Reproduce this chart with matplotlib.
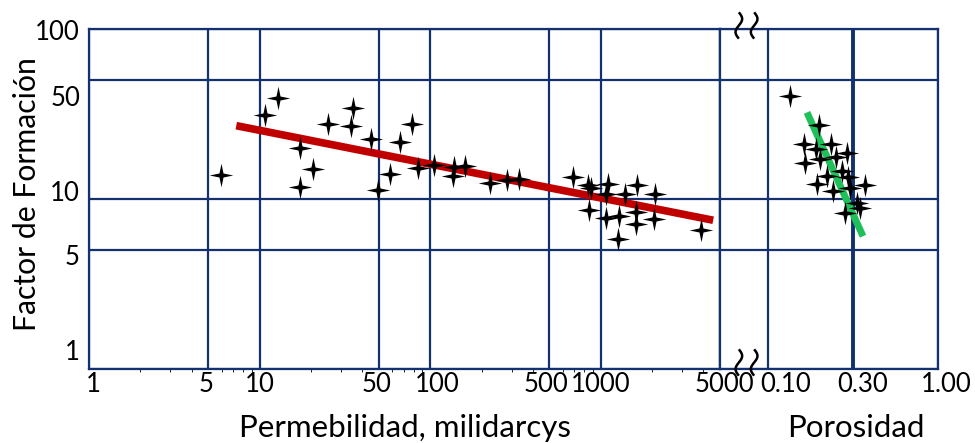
import matplotlib.pyplot as plt
import numpy as np
from matplotlib.path import Path
from matplotlib.transforms import ScaledTranslation, blended_transform_factory

plt.rcParams['font.family'] = ['Lato', 'DejaVu Sans']

# permeabilidad (mD) vs factor de formacion
perm = [5.98, 10.7, 12.8, 17.2, 20.5, 17.2, 25.1, 35.2, 34.3, 45.0, 49.4, 58.2, 66.6,
        78.4, 85.0, 105.6, 138.4, 136.5, 160.6, 225.4, 283.8, 333.9, 684.3, 838.3,
        873.5, 1100, 1070, 1384, 1629, 2078, 849.8, 1070, 1276, 1607, 1607, 2050,
        1259, 3875]
ff_perm = [13.9, 31.4, 39.1, 20.0, 15.0, 11.8, 27.8, 34.1, 26.7, 22.6, 11.3, 14.1, 21.7,
           27.8, 15.3, 15.9, 15.5, 13.7, 15.7, 12.4, 13.0, 13.1, 13.5, 12.1,
           11.6, 12.3, 10.7, 10.7, 12.1, 10.7, 8.61, 7.72, 7.93, 8.38, 7.11, 7.61,
           5.80, 6.56]

# porosidad (fraccion) vs factor de formacion
poro = [0.133, 0.193, 0.159, 0.226, 0.186, 0.278, 0.161, 0.196, 0.241, 0.214, 0.260,
        0.281, 0.188, 0.232, 0.289, 0.356, 0.318, 0.331, 0.271]
ff_poro = [40.1, 27.4, 21.2, 21.2, 19.8, 18.7, 16.3, 17.2, 17.7, 13.7, 14.6,
           13.5, 12.3, 11.2, 11.6, 12.1, 9.47, 8.84, 8.26]

# rectas de ajuste (extremos)
perm_fit = [7.3, 4560]
ff_perm_fit = [27.0, 7.5]
poro_fit = [0.1655, 0.3456]
ff_poro_fit = [32.3, 6.04]

yticks = [1, 5, 10, 50, 100]
ytick_labels = ['1', '5', '10', '50', '100']
xticks_perm = [1, 5, 10, 50, 100, 500, 1000, 5000]
xtick_labels_perm = ['1', '5', '10', '50', '100', '500', '1000', '5000']
xticks_poro = [0.10, 0.30, 1.00]
xtick_labels_poro = ['0.10', '0.30', '1.00']

navy = '#13306f'

# estrella de 4 puntas
r = 0.17
star = Path([(0, 1), (r, r), (1, 0), (r, -r), (0, -1),
             (-r, -r), (-1, 0), (-r, r), (0, 1)], closed=True)

# marca de corte: dos trazos ondulados verticales
t = np.linspace(-1, 1, 40)
verts, codes = [], []
for off in (-0.58, 0.58):
    verts += list(zip(off + 0.25 * np.sin(np.pi * t), t))
    codes += [Path.MOVETO] + [Path.LINETO] * (len(t) - 1)
squig = Path(verts, codes)

# escala de porosidad: 0.10, 0.30 y 1.00 equiespaciados en el dibujo
L03 = np.log10(0.3)


def fwd(x):
    lx = np.log10(np.clip(x, 1e-6, None))
    return np.where(lx < L03, (lx + 1) / (L03 + 1), 1 + (lx - L03) / (-L03))


def inv(u):
    return np.where(u < 1, 10 ** (u * (L03 + 1) - 1), 10 ** (L03 + (u - 1) * (-L03)))


fig = plt.figure(figsize=(9.75, 4.43), dpi=100)
ax1 = fig.add_axes([89 / 975, 74 / 443, 631 / 975, 340 / 443])
ax2 = fig.add_axes([720 / 975, 74 / 443, 218 / 975, 340 / 443])


def px(dx, dy):
    # desplazamiento en pixeles (dpi 100)
    return ScaledTranslation(dx / 100, -dy / 100, fig.dpi_scale_trans)


for ax in (ax1, ax2):
    ax.set_yscale('log')
    ax.set_ylim(1, 100)
    ax.set_yticks(yticks)
    ax.yaxis.set_minor_locator(plt.NullLocator())
    ax.xaxis.set_minor_locator(plt.NullLocator())
    ax.grid(True, color=navy, lw=1.6)
    ax.tick_params(length=0, labelbottom=False, labelleft=False)
    for sp in ax.spines.values():
        sp.set_color(navy)
        sp.set_linewidth(1.6)
    ax.set_axisbelow(True)

ax1.set_xscale('log')
ax1.set_xlim(1, 5000)
ax1.set_xticks(xticks_perm)
ax2.set_xscale('function', functions=(fwd, inv))
ax2.set_xlim(float(inv(-48 / 85)), 1.0)
ax2.set_xticks(xticks_poro)
ax2.get_xgridlines()[1].set_linewidth(2.8)

ax1.plot(perm_fit, ff_perm_fit, color='#c00000', lw=5.5, solid_capstyle='butt', zorder=3)
ax1.plot(perm, ff_perm, ls='none', marker=star, ms=17, color='black', mew=0, zorder=4)
ax2.plot(poro_fit, ff_poro_fit, color='#1fbf5a', lw=5, solid_capstyle='butt', zorder=3)
ax2.plot(poro, ff_poro, ls='none', marker=star, ms=17, color='black', mew=0, zorder=4)

# marcas de corte arriba y abajo
for yb in (1.012, 0.02):
    ax2.plot([0.119], [yb], transform=ax2.transAxes, clip_on=False, ls='none',
             marker=squig, ms=19, mfc='none', mec='black', mew=1.8, zorder=5)

# etiquetas de ejes, colocadas como en el original
fs = 18.5
ydy = [-17, 7, -5, 18, 4]
tr = blended_transform_factory(ax1.transAxes, ax1.transData)
for v, s, d in zip(yticks, ytick_labels, ydy):
    ax1.text(-9 / 631, v, s, transform=tr + px(0, d), ha='right', va='center', fontsize=fs)

xdx_perm = [4, -2, 0, -2, 7, -3, 0, 4]
tr = blended_transform_factory(ax1.transData, ax1.transAxes)
for v, s, d in zip(xticks_perm, xtick_labels_perm, xdx_perm):
    ax1.text(v, -16 / 340, s, transform=tr + px(d, 0), ha='center', va='center', fontsize=fs)

xdx_poro = [18, 10, 8]
tr = blended_transform_factory(ax2.transData, ax2.transAxes)
for v, s, d in zip(xticks_poro, xtick_labels_poro, xdx_poro):
    ax2.text(v, -16 / 340, s, transform=tr + px(d, 0), ha='center', va='center', fontsize=fs)

fig.text(405 / 975, 1 - 428 / 443, 'Permebilidad, milidarcys', ha='center', va='center', fontsize=22.5)
fig.text(856 / 975, 1 - 428 / 443, 'Porosidad', ha='center', va='center', fontsize=22.5)
fig.text(27 / 975, 1 - 194 / 443, 'Factor de Formación', ha='center', va='center',
         rotation=90, fontsize=21.7)

fig.savefig('out.png', dpi=100)
